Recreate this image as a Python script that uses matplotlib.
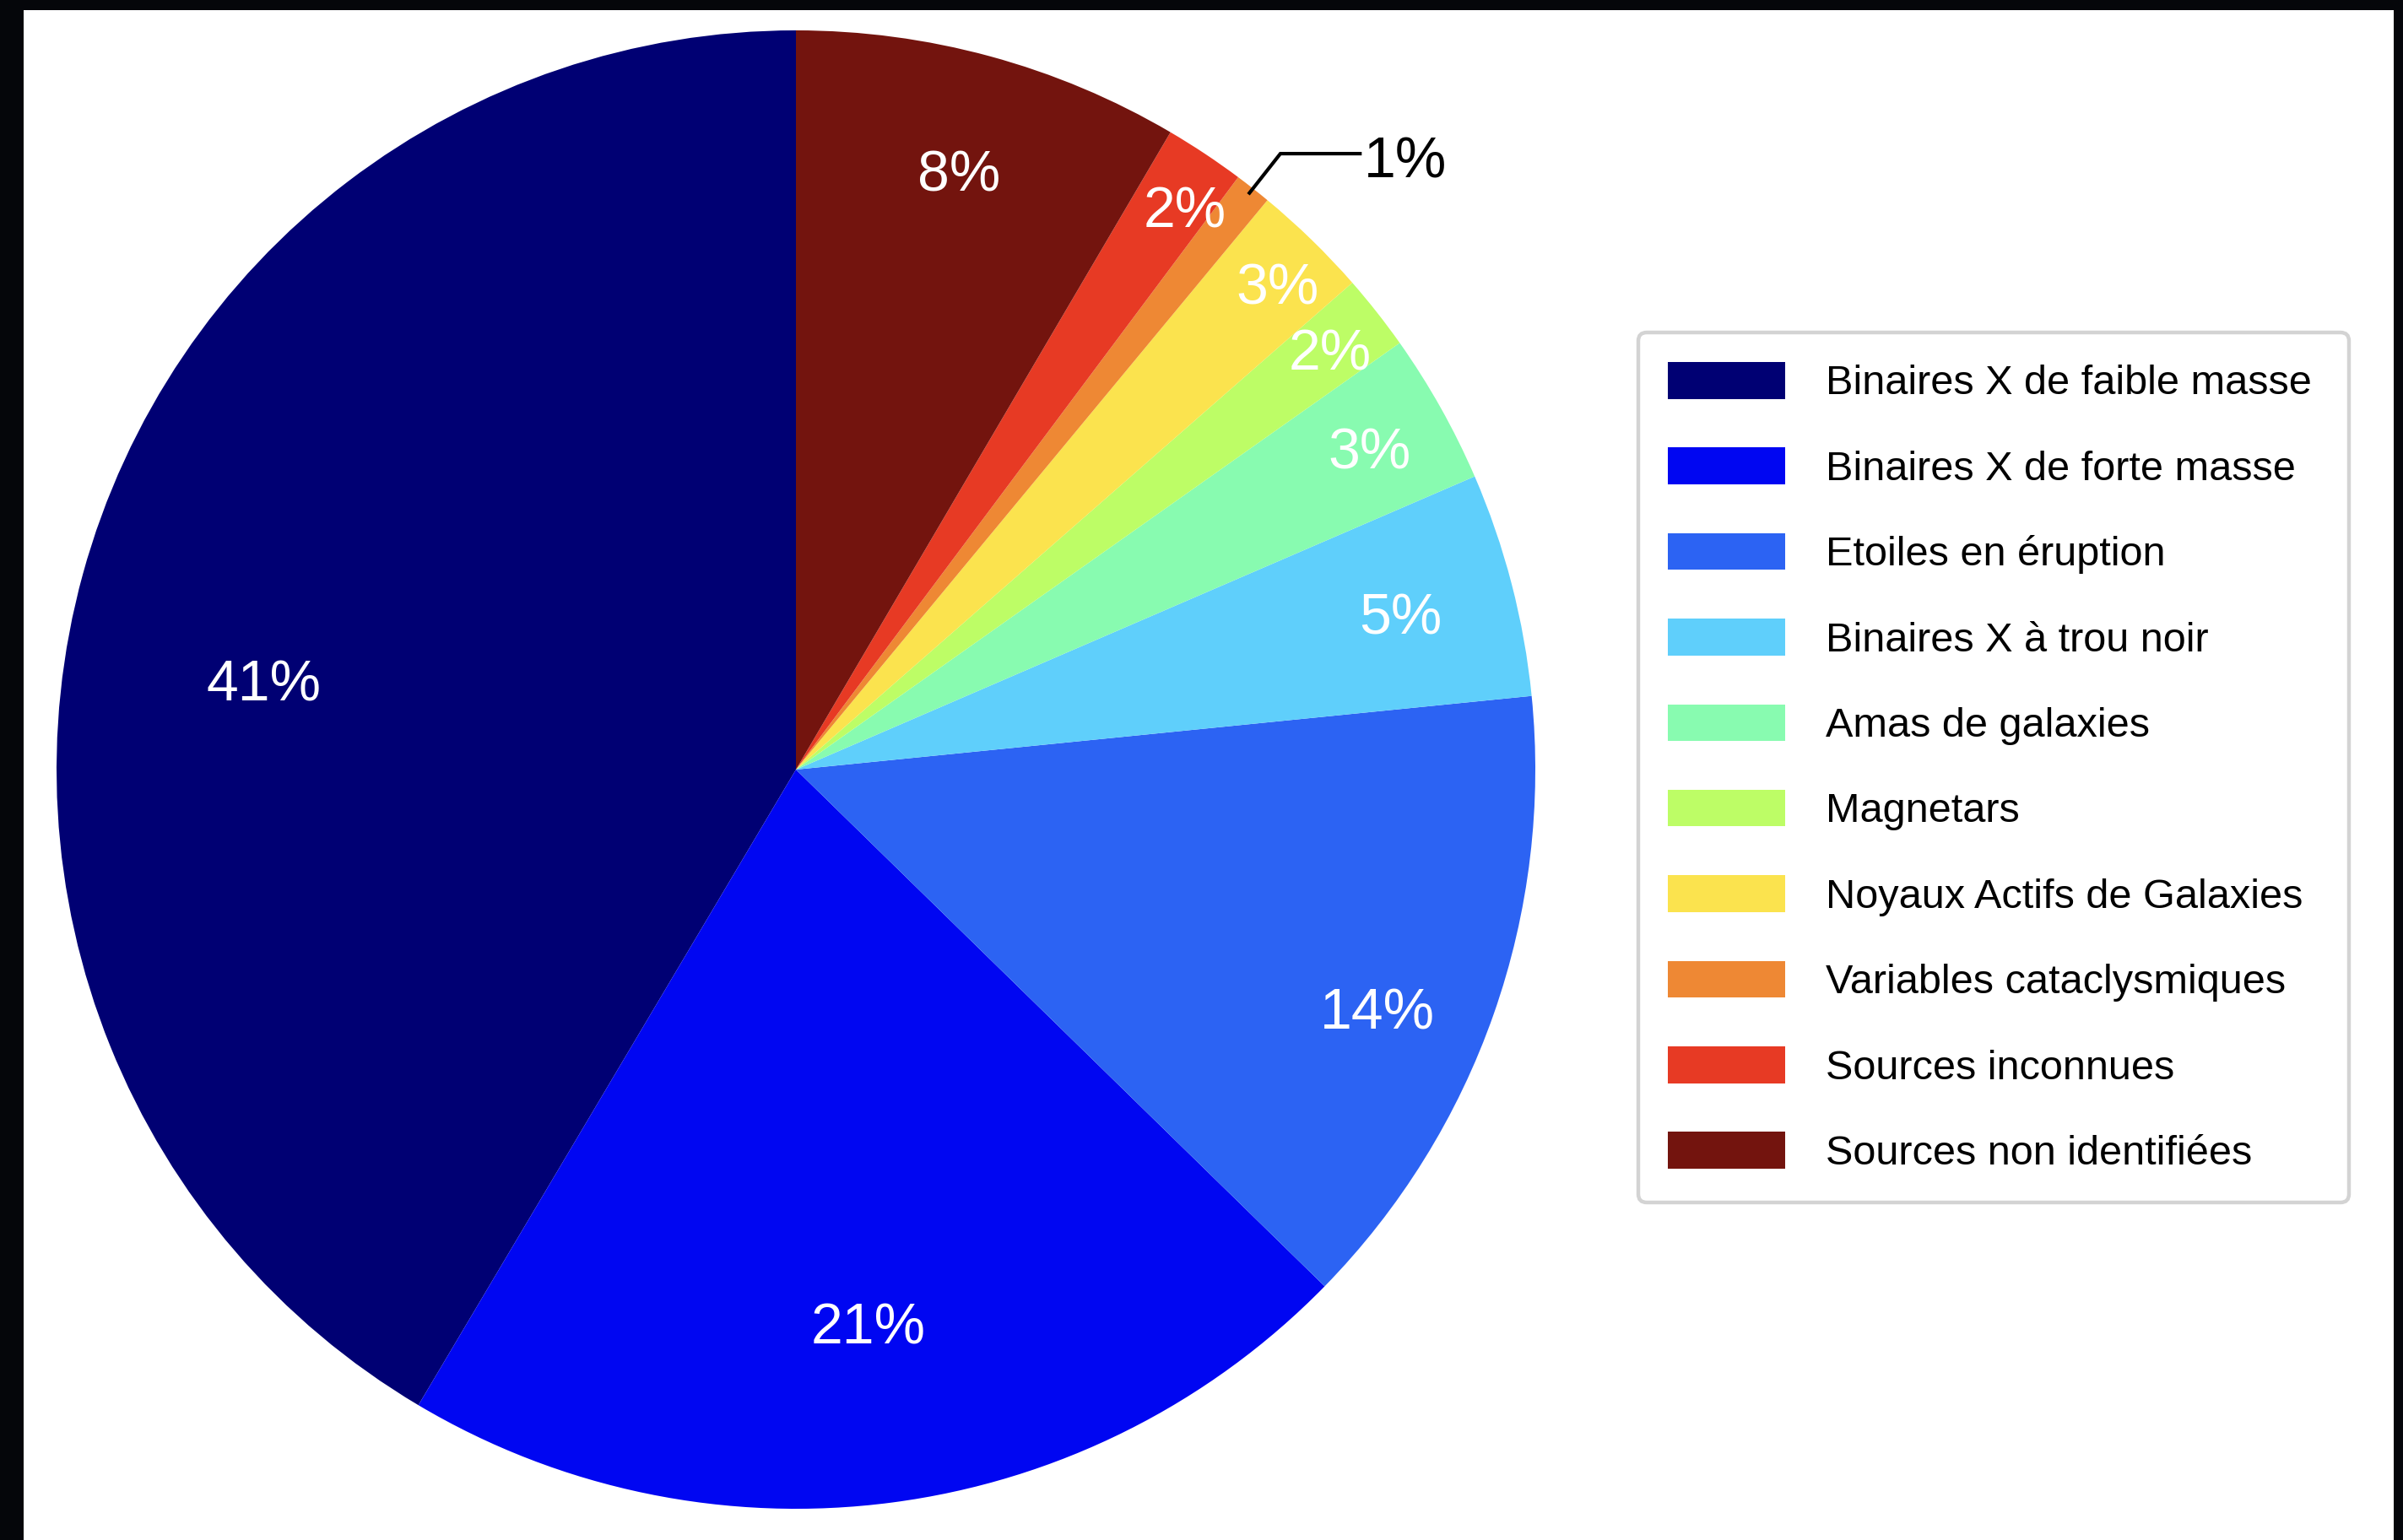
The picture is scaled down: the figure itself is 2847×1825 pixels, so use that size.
import matplotlib
matplotlib.use("Agg")
import matplotlib.pyplot as plt
from matplotlib.patches import Rectangle
import numpy as np

# Répartition des sources X par catégorie (%)
categories = [
    "Binaires X de faible masse",
    "Binaires X de forte masse",
    "Etoiles en éruption",
    "Binaires X à trou noir",
    "Amas de galaxies",
    "Magnetars",
    "Noyaux Actifs de Galaxies",
    "Variables cataclysmiques",
    "Sources inconnues",
    "Sources non identifiées",
]
shares = [41.45, 21.2, 13.9, 4.9, 3.3, 1.65, 2.55, 0.8, 1.75, 8.45]

colors = [
    "#000073", "#0006F2", "#2C63F3", "#5FCFFB", "#88FBB0",
    "#BDFD66", "#FBE34E", "#EE8834", "#E73A24", "#73140E",
]

# label placement: radius (fraction of pie radius) and angular nudge in degrees
label_radius = [0.73, 0.755, 0.85, 0.845, 0.89, 0.92, 0.926, None, 0.926, 0.84]
label_nudge = [5.8, 0, -3, 0, 0, 0, -0.5, 0, -1.0, 0]
outside_label = 7  # thin slice labelled outside with a leader line

FONT = "Liberation Sans"
W, H = 2847, 1825
fig = plt.figure(figsize=(W / 100, H / 100), dpi=100, facecolor="#05060a")

# white sheet over the dark backdrop
fig.add_artist(Rectangle((28 / W, 0), (2836 - 28) / W, (H - 12) / H,
                         transform=fig.transFigure, facecolor="white",
                         edgecolor="none", zorder=0))

cx, cy, R = 943, 912, 876
ax = fig.add_axes([(cx - R) / W, (H - cy - R) / H, 2 * R / W, 2 * R / H])
wedges, _ = ax.pie(shares, colors=colors, startangle=90, counterclock=True,
                   radius=1, wedgeprops=dict(linewidth=0))
ax.set_xlim(-1, 1)
ax.set_ylim(-1, 1)
ax.set_aspect("equal")
ax.axis("off")

total = sum(shares)
cap_half = 25 / R  # half the digit height, to centre labels visually

for i, w in enumerate(wedges):
    mid = 0.5 * (w.theta1 + w.theta2)
    txt = f"{shares[i] / total * 100:.0f}%"
    if i == outside_label:
        a = np.deg2rad(mid)
        p0 = 0.99 * np.array([np.cos(a), np.sin(a)])
        p1 = 1.06 * np.array([np.cos(a), np.sin(a)])
        p2 = p1 + np.array([0.11, 0.0])
        ax.plot([p0[0], p1[0], p2[0]], [p0[1], p1[1], p2[1]], color="black",
                lw=3.0, solid_capstyle="butt", solid_joinstyle="miter",
                clip_on=False)
        ax.text(p2[0] + 0.003, p2[1] - 0.033, txt, ha="left", va="baseline",
                color="black", fontsize=49, family=FONT, clip_on=False)
    else:
        a = np.deg2rad(mid + label_nudge[i])
        r = label_radius[i]
        ax.text(r * np.cos(a), r * np.sin(a) - cap_half, txt, ha="center",
                va="baseline", color="white", fontsize=49, family=FONT)

leg = fig.legend(wedges, categories, loc="upper left",
                 bbox_to_anchor=(1941 / W, (H - 1433) / H, 842 / W, 1039 / H),
                 mode="expand", borderaxespad=0,
                 prop=dict(family=FONT, size=35),
                 handlelength=2.85, handleheight=1.0, handletextpad=1.0,
                 labelspacing=1.09, borderpad=0.72, fancybox=True,
                 framealpha=1, edgecolor="#d3d3d3", facecolor="white")
leg.get_frame().set_linewidth(3.2)

fig.savefig("out.png", dpi=100, facecolor=fig.get_facecolor())
